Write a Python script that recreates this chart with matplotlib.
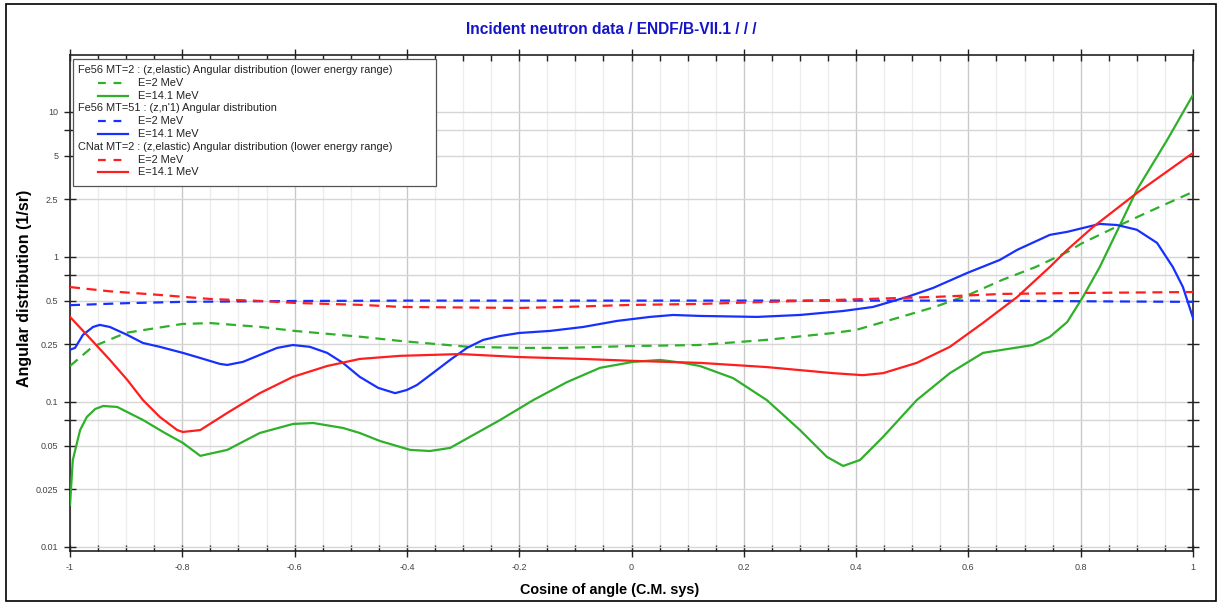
import matplotlib
matplotlib.use("Agg")
import matplotlib.pyplot as plt
from matplotlib.patches import Rectangle
from matplotlib.lines import Line2D
from matplotlib.ticker import FixedLocator, NullFormatter

plt.rcParams['font.family'] = ['Liberation Sans', 'DejaVu Sans']

# Fe56 MT=2 (z,elastic), E=2 MeV
fe_el_2_cos = [-1.0, -0.96, -0.9, -0.8, -0.75, -0.66, -0.6, -0.48, -0.41, -0.29,
               -0.2, -0.12, 0.0, 0.12, 0.24, 0.36, 0.4, 0.48, 0.54, 0.6, 0.66,
               0.72, 0.78, 0.8, 0.87, 0.92, 1.0]
fe_el_2_val = [0.177, 0.24, 0.30, 0.345, 0.35, 0.329, 0.309, 0.281, 0.263, 0.24,
               0.236, 0.236, 0.243, 0.247, 0.268, 0.299, 0.314, 0.386, 0.452, 0.547, 0.694,
               0.853, 1.10, 1.23, 1.66, 2.04, 2.81]

# Fe56 MT=2 (z,elastic), E=14.1 MeV
fe_el_14_cos = [-1.0, -0.995, -0.982, -0.97, -0.955, -0.941, -0.916, -0.87, -0.831, -0.799,
                -0.768, -0.72, -0.662, -0.603, -0.567, -0.514, -0.484, -0.448, -0.394, -0.359,
                -0.323, -0.288, -0.234, -0.175, -0.115, -0.056, 0.003, 0.051, 0.092, 0.122,
                0.181, 0.241, 0.3, 0.348, 0.377, 0.407, 0.448, 0.508, 0.567, 0.626,
                0.715, 0.745, 0.776, 0.804, 0.834, 0.87, 0.9, 0.954, 1.0]
fe_el_14_val = [0.0195, 0.0398, 0.064, 0.0788, 0.0895, 0.0938, 0.0924, 0.0751, 0.0611, 0.0522,
                0.0425, 0.0467, 0.0611, 0.0705, 0.0716, 0.0662, 0.0611, 0.0538, 0.0467, 0.0459,
                0.0482, 0.0574, 0.0751, 0.103, 0.137, 0.172, 0.189, 0.195, 0.186, 0.177,
                0.146, 0.103, 0.064, 0.0418, 0.0362, 0.0398, 0.0574, 0.103, 0.158, 0.218,
                0.247, 0.281, 0.356, 0.53, 0.853, 1.66, 2.9, 6.41, 13.1]

# Fe56 MT=51 (z,n'1), E=2 MeV
fe_n1_2_cos = [-1.0, -0.9, -0.8, -0.6, -0.4, 0.0, 0.4, 0.6, 0.8, 1.0]
fe_n1_2_val = [0.465, 0.48, 0.49, 0.497, 0.5, 0.5, 0.5, 0.5, 0.495, 0.49]

# Fe56 MT=51 (z,n'1), E=14.1 MeV
fe_n1_14_cos = [-1.0, -0.991, -0.977, -0.959, -0.947, -0.929, -0.898, -0.87, -0.84, -0.799,
                -0.768, -0.733, -0.72, -0.692, -0.662, -0.631, -0.603, -0.573, -0.542, -0.514,
                -0.484, -0.451, -0.421, -0.4, -0.382, -0.354, -0.323, -0.293, -0.264, -0.234,
                -0.2, -0.145, -0.086, -0.026, 0.033, 0.074, 0.122, 0.224, 0.3, 0.377,
                0.43, 0.491, 0.537, 0.598, 0.656, 0.687, 0.745, 0.776, 0.834, 0.865,
                0.9, 0.936, 0.964, 0.982, 1.0]
fe_n1_14_val = [0.229, 0.236, 0.29, 0.329, 0.34, 0.329, 0.29, 0.255, 0.24, 0.218,
                0.201, 0.183, 0.18, 0.189, 0.211, 0.236, 0.247, 0.24, 0.218, 0.186,
                0.149, 0.125, 0.115, 0.121, 0.131, 0.158, 0.195, 0.236, 0.268, 0.285,
                0.299, 0.309, 0.329, 0.362, 0.386, 0.398, 0.392, 0.386, 0.398, 0.424,
                0.452, 0.53, 0.611, 0.776, 0.954, 1.12, 1.42, 1.49, 1.69, 1.66,
                1.54, 1.25, 0.853, 0.621, 0.38]

# CNat MT=2 (z,elastic), E=2 MeV
c_el_2_cos = [-1.0, -0.93, -0.84, -0.75, -0.66, -0.6, -0.48, -0.41, -0.2, -0.12,
              0.0, 0.12, 0.36, 0.54, 0.66, 0.81, 1.0]
c_el_2_val = [0.62, 0.58, 0.547, 0.513, 0.497, 0.482, 0.467, 0.452, 0.445, 0.452,
              0.467, 0.474, 0.505, 0.53, 0.556, 0.565, 0.573]

# CNat MT=2 (z,elastic), E=14.1 MeV
c_el_14_cos = [-1.0, -0.97, -0.929, -0.898, -0.87, -0.84, -0.809, -0.799, -0.768, -0.72,
               -0.662, -0.603, -0.542, -0.484, -0.412, -0.305, -0.2, -0.086, 0.003, 0.122,
               0.241, 0.359, 0.412, 0.448, 0.508, 0.567, 0.626, 0.687, 0.745, 0.776,
               0.822, 0.9, 1.0]
c_el_14_val = [0.386, 0.29, 0.195, 0.142, 0.103, 0.0788, 0.064, 0.0621, 0.064, 0.084,
               0.115, 0.149, 0.177, 0.198, 0.208, 0.214, 0.204, 0.198, 0.192, 0.186,
               0.174, 0.158, 0.153, 0.158, 0.186, 0.24, 0.351, 0.53, 0.853, 1.12,
               1.61, 2.76, 5.21]

group_titles = ["Fe56 MT=2 : (z,elastic) Angular distribution (lower energy range)",
                "Fe56 MT=51 : (z,n'1) Angular distribution",
                "CNat MT=2 : (z,elastic) Angular distribution (lower energy range)"]
group_colors = ["#2fb02a", "#1830ff", "#ff1e1e"]
energy_labels = ["E=2 MeV", "E=14.1 MeV"]
series = [
    [(fe_el_2_cos, fe_el_2_val), (fe_el_14_cos, fe_el_14_val)],
    [(fe_n1_2_cos, fe_n1_2_val), (fe_n1_14_cos, fe_n1_14_val)],
    [(c_el_2_cos, c_el_2_val), (c_el_14_cos, c_el_14_val)],
]

y_major = [0.01, 0.025, 0.05, 0.1, 0.25, 0.5, 1, 2.5, 5, 10]
y_major_labels = ["0.01", "0.025", "0.05", "0.1", "0.25", "0.5", "1", "2.5", "5", "10"]
y_minor = [0.075, 0.75, 7.5]
x_major = [-1, -0.8, -0.6, -0.4, -0.2, 0, 0.2, 0.4, 0.6, 0.8, 1]
x_major_labels = ["-1", "-0.8", "-0.6", "-0.4", "-0.2", "0", "0.2", "0.4", "0.6", "0.8", "1"]
x_minor = [round(i * 0.05 - 1, 2) for i in range(41)]

W, H = 1225, 605
fig = plt.figure(figsize=(W / 100, H / 100), dpi=100)
ax = fig.add_axes([70 / W, 1 - 551 / H, 1123 / W, 496 / H])

for grp, col in zip(series, group_colors):
    (x2, v2), (x14, v14) = grp
    ax.plot(x2, v2, color=col, lw=1.6, dashes=(4.5, 3), zorder=3)
    ax.plot(x14, v14, color=col, lw=1.6, zorder=3)

ax.set_yscale('log')
ax.set_xlim(-1, 1)
ax.set_ylim(0.00938, 24.7)

ax.yaxis.set_major_locator(FixedLocator(y_major))
ax.set_yticklabels(y_major_labels)
ax.yaxis.set_minor_locator(FixedLocator(y_minor))
ax.yaxis.set_minor_formatter(NullFormatter())
ax.set_xticks(x_major)
ax.set_xticklabels(x_major_labels)
ax.xaxis.set_minor_locator(FixedLocator(x_minor))

ax.grid(True, axis='x', which='major', color='#c9c9c9', lw=1.0, zorder=0)
ax.grid(True, axis='x', which='minor', color='#ededed', lw=1.0, zorder=0)
ax.grid(True, axis='y', which='both', color='#d6d6d6', lw=1.0, zorder=0)

ax.tick_params(which='major', direction='inout', length=9, width=1, color='#222',
               labelsize=6.5, labelcolor='#444', pad=4, top=True, right=True)
ax.tick_params(axis='x', which='minor', direction='in', length=4, width=1, color='#222',
               top=True)
ax.tick_params(axis='y', which='minor', direction='inout', length=9, width=1, color='#222',
               right=True)
for s in ax.spines.values():
    s.set_color('#222')
    s.set_linewidth(1.2)

# legend box drawn by hand: group headers sit left of the handles
def fx(px):
    return (px - 70) / 1123

def fy(py):
    return 1 - (py - 55) / 496

ax.add_patch(Rectangle((fx(73), fy(186)), fx(436) - fx(73), fy(59) - fy(186),
                       transform=ax.transAxes, facecolor='white', edgecolor='#555',
                       lw=0.9, zorder=5))
row = 0
for title, col in zip(group_titles, group_colors):
    ax.text(fx(78), fy(70 + 12.8 * row), title, transform=ax.transAxes, fontsize=7.9,
            va='center', ha='left', color='#222', zorder=6)
    row += 1
    for k, lab in enumerate(energy_labels):
        yy = fy(70 + 12.8 * row)
        ln = Line2D([fx(98), fx(128)], [yy, yy], transform=ax.transAxes, color=col,
                    lw=1.6, zorder=6)
        if k == 0:
            ln.set_dashes((3.5, 3.5))
        ax.add_line(ln)
        ax.text(fx(138), yy, lab, transform=ax.transAxes, fontsize=7.9,
                va='center', ha='left', color='#222', zorder=6)
        row += 1

fig.text(0.499, 1 - 29 / H, "Incident neutron data / ENDF/B-VII.1 / / /", ha='center',
         va='center', fontsize=11.2, fontweight='bold', color='#1414c8')
fig.text(0.498, 1 - 590 / H, "Cosine of angle (C.M. sys)", ha='center', va='center',
         fontsize=10.4, fontweight='bold')
fig.text(25 / W, 1 - 288 / H, "Angular distribution (1/sr)", ha='center', va='center',
         rotation=90, fontsize=11.5, fontweight='bold')

fig.add_artist(Rectangle((6 / W, 1 - 601 / H), 1210 / W, 597 / H, transform=fig.transFigure,
                         fill=False, edgecolor='black', lw=1.2))

fig.savefig("out.png", dpi=100)
